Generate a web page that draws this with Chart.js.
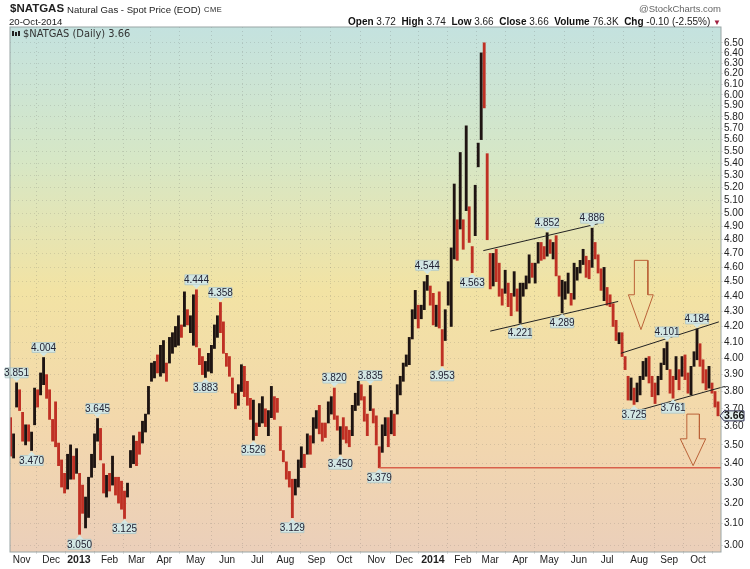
<!DOCTYPE html>
<html><head><meta charset="utf-8">
<script src="https://cdn.jsdelivr.net/npm/chart.js@4"></script>
<style>
html,body{margin:0;padding:0;background:#fff;width:750px;height:569px;overflow:hidden}
#wrap{position:relative;width:750px;height:569px}
canvas{position:absolute;left:0;top:0}
.t{position:absolute;white-space:nowrap;font-family:"Liberation Sans",Arial,sans-serif;color:#222}
.t b{color:#111}
</style></head><body>
<div id="wrap">
<canvas id="c" width="750" height="569"></canvas>
<div class="t" style="left:10px;top:2px;font-size:11.5px;font-weight:bold;color:#222">$NATGAS</div>
<div class="t" style="left:67px;top:4px;font-size:9.6px">Natural Gas - Spot Price (EOD)</div>
<div class="t" style="left:204px;top:5px;font-size:7.5px;letter-spacing:.5px">CME</div>
<div class="t" style="left:9px;top:16px;font-size:9.6px">20-Oct-2014</div>
<div class="t" style="right:29px;top:3px;font-size:9.5px;color:#666">@StockCharts.com</div>
<div class="t" style="right:29px;top:16px;font-size:10px"><b>Open</b> 3.72&nbsp; <b>High</b> 3.74&nbsp; <b>Low</b> 3.66&nbsp; <b>Close</b> 3.66&nbsp; <b>Volume</b> 76.3K&nbsp; <b>Chg</b> -0.10 (-2.55%) <span style="color:#a02040;font-size:8px">▼</span></div>
<div class="t" style="left:23px;top:27.5px;font-size:9.9px;font-family:'DejaVu Sans';color:#333">$NATGAS (Daily) 3.66</div>
</div>
<script>
const highs = [
3.65,3.56,3.851,3.81,3.68,3.61,3.61,3.57,3.82,3.81,
3.91,4.004,3.90,3.81,3.64,3.74,3.51,3.42,3.35,3.45,
3.50,3.44,3.48,3.35,3.29,3.23,3.33,3.45,3.56,3.645,
3.59,3.40,3.34,3.35,3.44,3.33,3.33,3.31,3.26,3.30,
3.47,3.55,3.52,3.57,3.63,3.67,3.83,3.97,3.98,4.02,
4.08,4.11,3.97,4.13,4.16,4.20,4.27,4.21,4.43,4.31,
4.27,4.41,4.444,4.06,4.01,3.98,4.03,4.08,4.21,4.27,
4.358,4.23,4.03,4.01,3.88,3.79,3.84,3.96,3.95,3.86,
3.76,3.75,3.62,3.73,3.77,3.70,3.69,3.83,3.77,3.76,
3.60,3.47,3.41,3.36,3.32,3.32,3.42,3.49,3.45,3.56,
3.55,3.65,3.69,3.72,3.62,3.62,3.74,3.77,3.82,3.66,
3.60,3.65,3.60,3.58,3.72,3.79,3.86,3.84,3.77,3.67,
3.835,3.70,3.66,3.49,3.61,3.65,3.65,3.69,3.67,3.84,
3.89,3.97,4.02,4.13,4.31,4.44,4.34,4.34,4.50,4.544,
4.47,4.42,4.34,4.43,4.18,4.31,4.50,4.74,5.23,4.95,
5.49,4.95,5.72,5.05,4.75,5.22,5.57,6.40,6.50,5.48,
4.70,4.70,4.73,4.63,4.45,4.58,4.49,4.42,4.57,4.45,
4.49,4.49,4.54,4.69,4.63,4.63,4.78,4.78,4.75,4.852,
4.80,4.78,4.83,4.54,4.51,4.50,4.56,4.42,4.63,4.60,
4.65,4.73,4.68,4.65,4.886,4.78,4.69,4.59,4.60,4.46,
4.41,4.35,4.24,4.16,4.16,4.01,3.89,3.88,3.82,3.85,
3.89,3.98,4.00,4.01,3.89,3.85,3.89,3.97,4.06,4.101,
3.93,3.89,4.01,3.93,4.01,4.02,3.91,3.95,4.04,4.184,
4.09,3.99,3.93,3.95,3.85,3.80,3.74];
const lows = [
3.44,3.43,3.71,3.69,3.52,3.50,3.52,3.47,3.61,3.71,
3.78,3.84,3.76,3.64,3.52,3.49,3.39,3.28,3.25,3.27,
3.32,3.32,3.35,3.05,3.15,3.08,3.13,3.33,3.38,3.52,
3.42,3.25,3.23,3.26,3.29,3.24,3.20,3.17,3.125,3.23,
3.38,3.40,3.39,3.45,3.51,3.57,3.67,3.86,3.88,3.91,
3.89,3.91,3.86,3.97,4.03,4.07,4.08,4.13,4.20,4.21,
4.16,4.08,4.07,3.96,3.90,3.883,3.92,3.91,4.06,4.13,
4.16,4.03,3.95,3.89,3.79,3.70,3.72,3.80,3.77,3.72,
3.64,3.526,3.55,3.60,3.62,3.60,3.55,3.65,3.64,3.68,
3.47,3.41,3.32,3.28,3.129,3.24,3.28,3.38,3.38,3.45,
3.45,3.51,3.59,3.56,3.52,3.54,3.62,3.67,3.64,3.58,
3.450,3.53,3.51,3.49,3.55,3.69,3.72,3.75,3.63,3.55,
3.69,3.62,3.50,3.379,3.46,3.55,3.49,3.56,3.55,3.67,
3.78,3.86,3.95,3.96,4.12,4.25,4.19,4.25,4.31,4.44,
4.34,4.21,4.20,4.19,3.953,4.11,4.34,4.20,4.66,4.65,
4.88,4.73,5.02,4.78,4.563,4.83,5.37,5.60,5.88,4.80,
4.45,4.47,4.50,4.40,4.34,4.42,4.33,4.27,4.40,4.30,
4.221,4.40,4.45,4.49,4.53,4.49,4.63,4.65,4.66,4.68,
4.70,4.66,4.54,4.40,4.289,4.38,4.42,4.34,4.38,4.51,
4.56,4.62,4.53,4.52,4.60,4.66,4.56,4.44,4.37,4.34,
4.33,4.20,4.11,4.09,4.01,3.93,3.75,3.75,3.725,3.74,
3.78,3.87,3.89,3.85,3.77,3.73,3.78,3.87,3.96,3.93,
3.79,3.761,3.87,3.81,3.89,3.87,3.79,3.78,3.95,3.99,
3.95,3.85,3.81,3.82,3.79,3.71,3.66];
const upBars = [
0,1,1,0,0,1,0,1,1,0,
1,1,0,0,0,0,0,0,0,1,
1,0,1,0,0,1,1,1,1,1,
0,0,1,0,1,0,0,0,0,1,
1,1,0,0,1,1,1,1,1,0,
1,1,0,1,1,1,1,0,1,0,
1,1,0,0,0,1,1,1,1,1,
0,0,0,0,0,0,1,1,0,0,
0,1,0,1,1,0,1,1,0,0,
0,0,0,0,0,1,1,1,0,1,
0,1,1,0,0,0,1,1,0,0,
1,0,0,0,1,1,1,0,0,0,
1,0,0,0,1,1,0,1,0,1,
1,1,1,1,1,1,0,1,1,1,
0,0,1,0,0,1,1,1,1,0,
1,0,1,0,0,1,1,1,0,0,
0,1,0,0,0,1,0,0,1,0,
1,1,1,1,0,1,1,0,0,1,
0,1,0,0,1,1,1,0,1,1,
1,1,0,0,1,0,0,0,1,0,
0,0,0,1,0,0,0,1,0,1,
1,1,1,0,0,0,1,1,1,1,
0,0,1,0,1,0,0,1,1,1,
0,0,0,1,0,0,0];
const monthSlots = [3.7,13.5,22.8,33,42,51.3,61.7,72.2,82.3,91.7,102,111.4,122,131.3,140.9,150.9,160,170,179.7,189.6,199,209.7,219.7,229.3];
const monthNames = ['Nov','Dec','2013','Feb','Mar','Apr','May','Jun','Jul','Aug','Sep','Oct','Nov','Dec','2014','Feb','Mar','Apr','May','Jun','Jul','Aug','Sep','Oct'];
const priceTicks = [3.0,3.1,3.2,3.3,3.4,3.5,3.6,3.7,3.8,3.9,4.0,4.1,4.2,4.3,4.4,4.5,4.6,4.7,4.8,4.9,5.0,5.1,5.2,5.3,5.4,5.5,5.6,5.7,5.8,5.9,6.0,6.1,6.2,6.3,6.4,6.5];
const peakSlots = [2,11,29,62,70,108,120,139,179,194,219,229];
const peakValues = [3.851,4.004,3.645,4.444,4.358,3.820,3.835,4.544,4.852,4.886,4.101,4.184];
const troughSlots = [7,23,38,65,81,94,110,123,144,154,170,184,208,221];
const troughValues = [3.470,3.050,3.125,3.883,3.526,3.129,3.450,3.379,3.953,4.563,4.221,4.289,3.725,3.761];
const lastClose = 3.66;
const trendUpper1 = [{x:157.7,y:4.72},{x:196,y:4.92}];
const trendLower1 = [{x:160,y:4.17},{x:202.7,y:4.365}];
const trendUpper2 = [{x:203.6,y:4.03},{x:236.3,y:4.23}];
const trendLower2 = [{x:209.3,y:3.69},{x:238.3,y:3.83}];
const supportLine = [{x:123,y:3.379},{x:237,y:3.379}];
const arrowOne = [{x:208.1,y:4.65},{x:212.6,y:4.65},{x:212.6,y:4.41},{x:214.4,y:4.41},{x:210.3,y:4.18},{x:206.1,y:4.41},{x:208.1,y:4.41},{x:208.1,y:4.65}];
const arrowTwo = [{x:225.6,y:3.67},{x:229.8,y:3.67},{x:229.8,y:3.533},{x:231.9,y:3.533},{x:227.7,y:3.39},{x:223.4,y:3.533},{x:225.6,y:3.533},{x:225.6,y:3.67}];

function lineSet(data,color,width){
  return {type:'line',data,borderColor:color,borderWidth:width,pointRadius:0,pointHoverRadius:0,tension:0,fill:false,clip:false,order:0};
}
const font='"Liberation Sans",Arial,sans-serif';
function callout(ctx,x,y,text,dir){
  const w=23,h=10,g=5,off=g+h/2;
  const cy=y+dir*off, cx=x;
  ctx.save();
  ctx.fillStyle='#d3e7e4';ctx.strokeStyle='#aec6c6';ctx.lineWidth=.8;
  ctx.beginPath();
  ctx.rect(cx-w/2,cy-h/2,w,h);
  ctx.fill();ctx.stroke();
  ctx.beginPath();
  ctx.moveTo(x-4,cy-dir*h/2);ctx.lineTo(x,y+dir*1);ctx.lineTo(x+4,cy-dir*h/2);ctx.closePath();
  ctx.fill();
  ctx.fillStyle='#223';ctx.font='10px '+font;ctx.textAlign='center';ctx.textBaseline='middle';
  ctx.fillText(text,cx,cy+.5);
  ctx.restore();
}
const decorate={
  id:'decorate',
  beforeDraw(chart){
    const {ctx,chartArea:a}=chart;
    const g=ctx.createLinearGradient(0,a.top,0,a.bottom);
    g.addColorStop(0,'#c4e2df');g.addColorStop(.25,'#d6e7c6');g.addColorStop(.5,'#f2e3a4');g.addColorStop(.75,'#f3d8ac');g.addColorStop(1,'#ebcfba');
    ctx.save();ctx.fillStyle=g;ctx.fillRect(a.left,a.top,a.right-a.left,a.bottom-a.top);ctx.restore();
  },
  afterDraw(chart){
    const {ctx,chartArea:a,scales:{x,y}}=chart;
    peakSlots.forEach((k,i)=>callout(ctx,x.getPixelForValue(k),y.getPixelForValue(peakValues[i]),peakValues[i].toFixed(3),-1));
    troughSlots.forEach((k,i)=>callout(ctx,x.getPixelForValue(k),y.getPixelForValue(troughValues[i]),troughValues[i].toFixed(3),1));
    ctx.save();
    ctx.strokeStyle='#9aa6a6';ctx.lineWidth=1;ctx.strokeRect(a.left,a.top,a.right-a.left,a.bottom-a.top);
    const py=y.getPixelForValue(lastClose);
    ctx.fillStyle='#e3efee';ctx.strokeStyle='#335';
    ctx.beginPath();ctx.moveTo(a.right-1,py);ctx.lineTo(a.right+3,py-5);ctx.lineTo(a.right+23,py-5);ctx.lineTo(a.right+23,py+5);ctx.lineTo(a.right+3,py+5);ctx.closePath();ctx.fill();ctx.stroke();
    ctx.fillStyle='#111';ctx.font='bold 10.5px '+font;ctx.textAlign='left';ctx.textBaseline='middle';
    ctx.fillText(lastClose.toFixed(2),a.right+3,py+.5);
    ctx.fillStyle='#222';ctx.fillRect(12,31,2,5);ctx.fillRect(15,32,2,4);ctx.fillRect(18,31,2,5);
    ctx.restore();
  }
};
new Chart(document.getElementById('c'),{
  type:'bar',
  data:{datasets:[
    {type:'bar',data:highs.map((h,i)=>({x:i,y:[lows[i],h]})),
     backgroundColor:upBars.map(u=>u?'#1e1412':'#bf3024'),barThickness:2.2,order:1,borderWidth:0},
    lineSet(trendUpper1,'#222',1),lineSet(trendLower1,'#222',1),
    lineSet(trendUpper2,'#222',1),lineSet(trendLower2,'#222',1),
    lineSet(supportLine,'#d8604a',1.3),
    lineSet(arrowOne,'#bb6238',1),lineSet(arrowTwo,'#bb6238',1)
  ]},
  options:{
    responsive:false,animation:false,events:[],
    layout:{padding:{top:27,left:10,right:0,bottom:0}},
    plugins:{legend:{display:false},tooltip:{enabled:false},title:{display:false}},
    scales:{
      x:{type:'linear',offset:false,min:-0.2,max:237,
        afterBuildTicks(s){s.ticks=monthSlots.map(v=>({value:v}));},
        afterFit(s){s.height=17;},
        grid:{color:'rgba(90,90,90,.22)',lineWidth:1,tickLength:2},
        border:{display:false,dash:[1,3]},
        ticks:{autoSkip:false,maxRotation:0,padding:0,color:'#222',
          font:c=>({family:font,size:(c.index===2||c.index===14)?10.5:10,weight:(c.index===2||c.index===14)?'bold':'normal'}),
          callback:(v,i)=>monthNames[i]}
      },
      y:{type:'logarithmic',position:'right',min:2.968,max:6.66,
        afterBuildTicks(s){s.ticks=priceTicks.map(v=>({value:v}));},
        afterFit(s){s.width=29;},
        grid:{color:'rgba(90,90,90,.18)',lineWidth:1,tickLength:2},
        border:{display:false,dash:[1,3]},
        ticks:{autoSkip:false,padding:1,color:'#222',font:{family:font,size:10},callback:v=>Number(v).toFixed(2)}
      }
    }
  },
  plugins:[decorate]
});
</script>
</body></html>
